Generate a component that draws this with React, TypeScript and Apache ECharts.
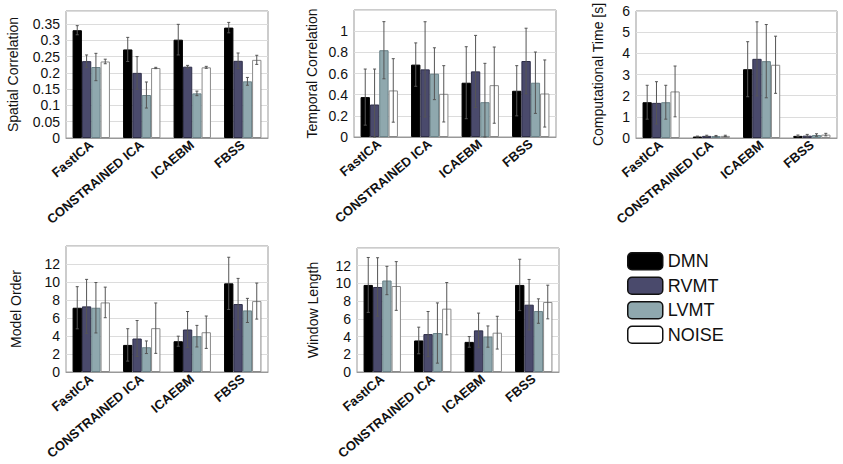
import React, { useEffect, useRef } from "react";
import * as echarts from "echarts";

const categories = ["FastICA", "CONSTRAINED ICA", "ICAEBM", "FBSS"];
const seriesNames = ["DMN", "RVMT", "LVMT", "NOISE"];
const seriesColors = ["#000000", "#4a4a6c", "#8fa8ae", "#ffffff"];
const seriesBorders = ["#000000", "#2e2e48", "#6a8288", "#8a8a8a"];

// rows: DMN, RVMT, LVMT, NOISE ; columns: categories
const spatialMeans = [
  [0.331, 0.272, 0.302, 0.339],
  [0.236, 0.2, 0.219, 0.237],
  [0.218, 0.132, 0.137, 0.174],
  [0.235, 0.215, 0.217, 0.24],
];
const spatialErrs = [
  [0.014, 0.037, 0.047, 0.016],
  [0.019, 0.05, 0.004, 0.024],
  [0.042, 0.04, 0.007, 0.012],
  [0.007, 0.002, 0.003, 0.014],
];
const temporalMeans = [
  [0.377, 0.684, 0.513, 0.437],
  [0.307, 0.639, 0.62, 0.718],
  [0.82, 0.598, 0.329, 0.513],
  [0.44, 0.408, 0.49, 0.411],
];
const temporalErrs = [
  [0.265, 0.205, 0.34, 0.237],
  [0.335, 0.45, 0.34, 0.31],
  [0.27, 0.245, 0.367, 0.29],
  [0.3, 0.266, 0.36, 0.317],
];
const timeMeans = [
  [1.69, 0.07, 3.25, 0.1],
  [1.66, 0.1, 3.74, 0.11],
  [1.69, 0.09, 3.63, 0.14],
  [2.2, 0.1, 3.46, 0.16],
];
const timeErrs = [
  [0.8, 0.02, 1.3, 0.04],
  [1.0, 0.03, 1.75, 0.06],
  [0.8, 0.03, 1.73, 0.06],
  [1.2, 0.03, 1.35, 0.06],
];
const orderMeans = [
  [7.14, 3.01, 3.42, 9.85],
  [7.29, 3.72, 4.72, 7.55],
  [7.14, 2.75, 3.98, 6.84],
  [7.73, 4.87, 4.42, 7.88],
];
const orderErrs = [
  [2.34, 1.8, 0.56, 2.9],
  [3.0, 2.0, 2.0, 2.85],
  [2.8, 0.7, 1.2, 1.34],
  [1.7, 2.8, 1.8, 2.0],
];
const windowMeans = [
  [9.83, 3.56, 3.4, 9.83],
  [9.6, 4.28, 4.7, 7.6],
  [10.33, 4.4, 4.0, 6.88],
  [9.71, 7.15, 4.44, 7.9],
];
const windowErrs = [
  [3.1, 1.5, 0.6, 2.9],
  [3.3, 2.55, 1.95, 2.85],
  [1.6, 3.4, 1.2, 1.38],
  [2.75, 2.95, 1.85, 1.9],
];

const panels = [
  { name: "Spatial Correlation", means: spatialMeans, errs: spatialErrs, max: 0.39, interval: 0.05, grid: { left: 66, top: 11, width: 202, height: 127 }, nameGap: 46 },
  { name: "Temporal Correlation", means: temporalMeans, errs: temporalErrs, max: 1.2, interval: 0.2, grid: { left: 354, top: 10, width: 202, height: 127 }, nameGap: 35 },
  { name: "Computational Time [s]", means: timeMeans, errs: timeErrs, max: 6, interval: 1, grid: { left: 636, top: 11, width: 201, height: 127 }, nameGap: 31 },
  { name: "Model Order", means: orderMeans, errs: orderErrs, max: 14, interval: 2, grid: { left: 66, top: 246, width: 202, height: 126 }, nameGap: 43 },
  { name: "Window Length", means: windowMeans, errs: windowErrs, max: 14, interval: 2, grid: { left: 357, top: 248, width: 202, height: 124 }, nameGap: 37 },
];

const CAT_GAP = 0.26;
const FONT = "'Liberation Sans', Arial, sans-serif";

export default function App() {
  const ref = useRef<HTMLDivElement>(null);
  useEffect(() => {
    if (!ref.current) return;
    const chart = echarts.init(ref.current, null, { renderer: "svg" });
    const grids: any[] = [];
    const xAxes: any[] = [];
    const yAxes: any[] = [];
    const series: any[] = [];
    panels.forEach((p, pi) => {
      grids.push({
        ...p.grid,
        show: true,
        borderColor: "#999",
        borderWidth: 1,
        backgroundColor: "#fff",
        containLabel: false,
        outerBoundsMode: "none",
      });
      xAxes.push({
        type: "category",
        gridIndex: pi,
        data: categories,
        axisLine: { show: true, lineStyle: { color: "#999" } },
        axisTick: { show: false },
        axisLabel: { rotate: 40, fontWeight: "bold", fontSize: 13, color: "#111", fontFamily: FONT, margin: 5, interval: 0 },
      });
      yAxes.push({
        type: "value",
        gridIndex: pi,
        min: 0,
        max: p.max,
        interval: p.interval,
        name: p.name,
        nameLocation: "middle",
        nameGap: p.nameGap,
        nameRotate: 90,
        nameTextStyle: { fontSize: 14, color: "#111", fontFamily: FONT },
        axisLine: { show: false },
        axisTick: { show: false },
        axisLabel: { fontSize: 14, color: "#111", fontFamily: FONT, showMaxLabel: p.max === 6, margin: 6 },
        splitLine: { show: true, lineStyle: { color: "#dcdcdc", width: 1 } },
      });
      seriesNames.forEach((sn, si) => {
        series.push({
          type: "bar",
          name: sn,
          xAxisIndex: pi,
          yAxisIndex: pi,
          data: p.means[si],
          barGap: "0%",
          barCategoryGap: CAT_GAP * 100 + "%",
          itemStyle: { color: seriesColors[si], borderColor: seriesBorders[si], borderWidth: 1 },
        });
      });
      seriesNames.forEach((sn, si) => {
        series.push({
          type: "custom",
          name: "err-" + sn + "-" + pi,
          xAxisIndex: pi,
          yAxisIndex: pi,
          z: 5,
          data: p.means[si].map((m, ci) => [ci, m, p.errs[si][ci]]),
          encode: { x: 0, y: 1 },
          renderItem: (params: any, api: any) => {
            const cat = api.value(0);
            const val = api.value(1);
            const err = api.value(2);
            const catW = api.size([1, 0])[0];
            const barW = (catW * (1 - CAT_GAP)) / 4;
            const x = api.coord([cat, 0])[0] + (si - 1.5) * barW;
            const yT = api.coord([cat, val + err])[1];
            const yB = api.coord([cat, Math.max(0, val - err)])[1];
            const style = { stroke: "#555", lineWidth: 1 };
            return {
              type: "group",
              children: [
                { type: "line", shape: { x1: x, y1: yT, x2: x, y2: yB }, style },
                { type: "line", shape: { x1: x - 1.5, y1: yT, x2: x + 1.5, y2: yT }, style },
                { type: "line", shape: { x1: x - 1.5, y1: yB, x2: x + 1.5, y2: yB }, style },
              ],
            };
          },
        });
      });
    });
    chart.setOption({
      animation: false,
      backgroundColor: "#fff",
      textStyle: { fontFamily: FONT },
      grid: grids,
      xAxis: xAxes,
      yAxis: yAxes,
      legend: {
        data: seriesNames,
        orient: "vertical",
        left: 627,
        top: 252,
        padding: 0,
        itemWidth: 35,
        itemHeight: 17,
        itemGap: 6,
        selectedMode: false,
        itemStyle: { borderColor: "#111", borderWidth: 1.5 },
        textStyle: { fontSize: 18, color: "#111", fontFamily: FONT },
      },
      series,
    });
    return () => chart.dispose();
  }, []);
  return <div ref={ref} style={{ position: "absolute", left: 0, top: 0, width: 843, height: 464 }} />;
}
